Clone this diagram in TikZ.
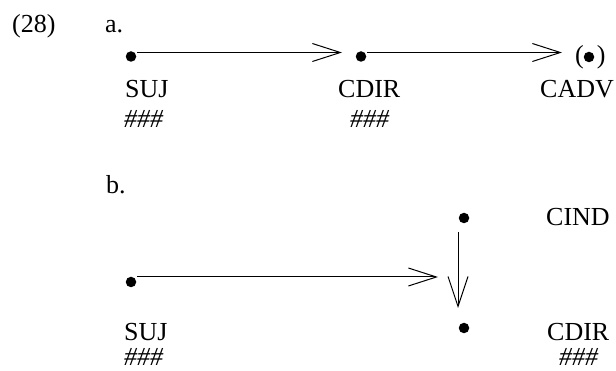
\documentclass[tikz,border=0pt]{standalone}
\usepackage{fontspec}
\setmainfont{Liberation Serif}
\usetikzlibrary{arrows.meta}
\begin{document}
\begin{tikzpicture}[x=1pt,y=-1pt,
  lbl/.style={anchor=base west,inner sep=0pt,font=\fontsize{26}{28}\selectfont},
  hash/.style={lbl,font=\fontsize{26}{28}\selectfont\itshape},
  pt/.style={circle,fill=black,inner sep=0pt,minimum size=10.5pt},
  link/.style={line width=1pt,-{Straight Barb[length=28pt,width=18pt,line width=1pt]}}]
\useasboundingbox (0,0) rectangle (616,371);

% example number and sub-labels
\node[lbl] (num) at (12,33) {(28)};
\node[lbl] (la) at (105,33) {a.};
\node[lbl] (lb) at (106,194) {b.};

% --- (a) ---
\node[pt] (a1) at (131,56.5) {};
\node[pt] (a2) at (361,56.5) {};
% optional point, in brackets
\node[lbl] (a3) at (575,64) {(\hspace{13pt})};
\node[pt] (a3p) at (589,57) {};
\coordinate (a1s) at (137,52.5);
\coordinate (a1e) at (342,52.5);
\coordinate (a2s) at (367,52.5);
\coordinate (a2e) at (562,52.5);
\draw[link] (a1s) -- (a1e);
\draw[link] (a2s) -- (a2e);

\node[lbl] (asuj) at (125,98) {SUJ};
\node[hash] (ah1) at (124,128) {\#\#\#};
\node[lbl] (acdir) at (338,98) {CDIR};
\node[hash] (ah2) at (350,128) {\#\#\#};
\node[lbl] (acadv) at (540,98) {CADV};

% --- (b) ---
\node[pt] (b1) at (131,282) {};
\node[pt] (b2) at (464,218) {};
\node[pt] (b3) at (464,328) {};
\coordinate (b1s) at (137,277);
\coordinate (b1e) at (438,277);
\coordinate (b2s) at (458,232);
\coordinate (b2e) at (458,308);
\draw[link] (b1s) -- (b1e);
\draw[line width=1pt,-{Straight Barb[length=30pt,width=20pt,line width=1pt]}] (b2s) -- (b2e);

\node[lbl] (bcind) at (546,226) {CIND};
\node[lbl] (bsuj) at (124,341) {SUJ};
\node[hash] (bh1) at (124,366) {\#\#\#};
\node[lbl] (bcdir) at (547,341) {CDIR};
\node[hash] (bh2) at (559,366) {\#\#\#};
\end{tikzpicture}
\end{document}
